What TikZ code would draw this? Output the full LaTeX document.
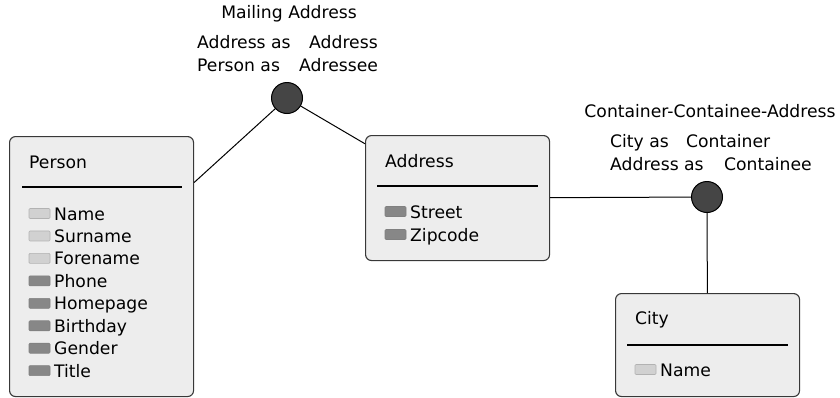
\documentclass[tikz,border=0pt]{standalone}
\usepackage{fontspec}
\setmainfont{DejaVu Sans}
\begin{document}
\begin{tikzpicture}[x=1pt,y=-1pt,
  font=\fontsize{17.2}{20}\selectfont,
  entity/.style={draw=black!78,fill=black!7,rounded corners=6pt,line width=1.1pt},
  sep/.style={draw=black,line width=1.1pt},
  relnode/.style={circle,draw=black,fill=black!73,line width=1pt,minimum size=31pt,inner sep=0pt},
  keylight/.style={draw=black!30,fill=black!18,rounded corners=1pt,line width=0.6pt},
  keydark/.style={draw=black!50,fill=black!47,rounded corners=1pt,line width=0.6pt},
  txt/.style={anchor=base west,inner sep=0pt},
  link/.style={draw=black,line width=1pt}]
\useasboundingbox (0,0) rectangle (840,397);

% ---------- entity boxes ----------
\node[entity,minimum width=184pt,minimum height=260pt,anchor=north west,inner sep=0pt] (person) at (9,136) {};
\node[entity,minimum width=184pt,minimum height=125pt,anchor=north west,inner sep=0pt] (address) at (365,135) {};
\node[entity,minimum width=184pt,minimum height=103pt,anchor=north west,inner sep=0pt] (city) at (615,293) {};

% ---------- relationship circles ----------
\node[relnode] (mail) at (287,98) {};
\node[relnode] (cont) at (707,197) {};

% ---------- connectors ----------
\draw[link] (mail) -- (person);
\draw[link] (mail) -- (address);
\draw[link] (address) -- (cont);
\draw[link] (cont) -- (city);

% ---------- Person ----------
\node[txt] (pt) at (29,168) {Person};
\draw[sep] (22,187) -- (182,187);
\foreach \lab/\sty [count=\i] in {Name/keylight,Surname/keylight,Forename/keylight,Phone/keydark,Homepage/keydark,Birthday/keydark,Gender/keydark,Title/keydark}{
  \pgfmathsetmacro\yb{220+(\i-1)*22.45}
  \draw[\sty] (29,\yb-11.5) rectangle (50,\yb-1.5);
  \node[txt] (p\i) at (54,\yb) {\lab};
}

% ---------- Address ----------
\node[txt] (at) at (385,167) {Address};
\draw[sep] (377,186) -- (538,186);
\draw[keydark] (385,206.5) rectangle (406,216.5);
\node[txt] (a1) at (410,218) {Street};
\draw[keydark] (385,229.5) rectangle (406,239.5);
\node[txt] (a2) at (410,241) {Zipcode};

% ---------- City ----------
\node[txt] (ct) at (635,324) {City};
\draw[sep] (627,345) -- (788,345);
\draw[keylight] (635,364.5) rectangle (656,374.5);
\node[txt] (c1) at (660,376) {Name};

% ---------- relationship labels ----------
\node[anchor=base,inner sep=0pt] (mailname) at (289,18) {Mailing Address};
\node[txt] (m1a) at (197,48) {Address as};
\node[txt] (m1b) at (309,48) {Address};
\node[txt] (m2a) at (197,71) {Person as};
\node[txt] (m2b) at (299,71) {Adressee};

\node[anchor=base,inner sep=0pt] (contname) at (710,117) {Container-Containee-Address};
\node[txt] (c1a) at (610,147) {City as};
\node[txt] (c1b) at (686,147) {Container};
\node[txt] (c2a) at (610,170) {Address as};
\node[txt] (c2b) at (724,170) {Containee};
\end{tikzpicture}
\end{document}
